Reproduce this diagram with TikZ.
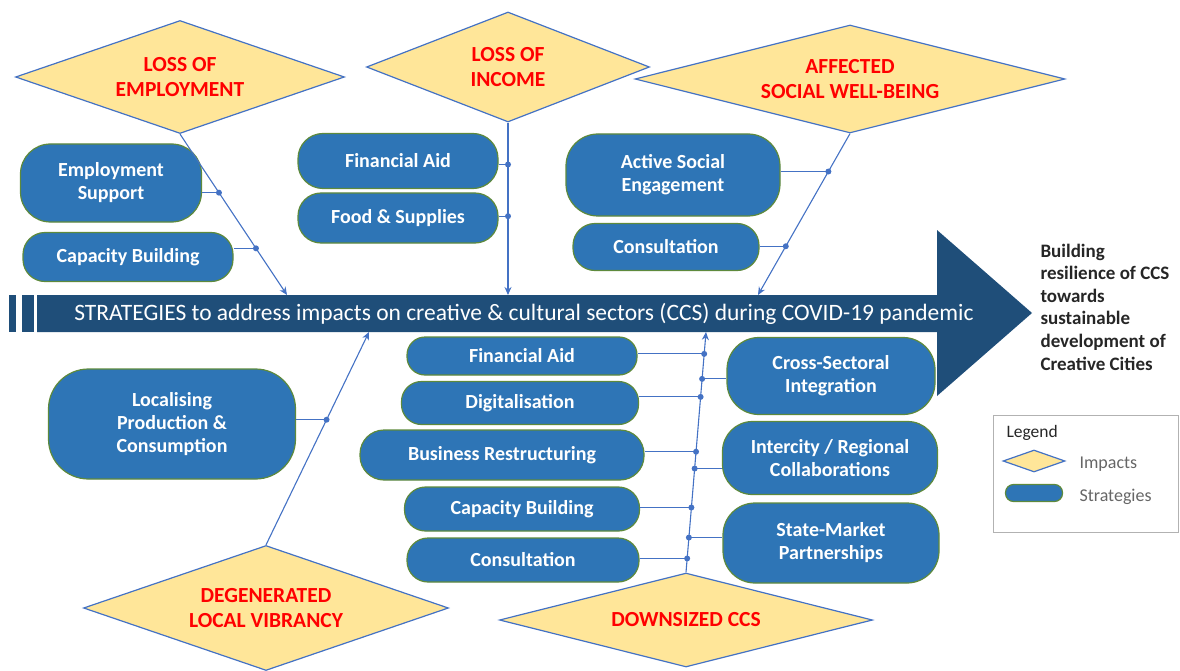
\documentclass[tikz,border=0pt]{standalone}
\usepackage{fontspec}
\setmainfont{Carlito}
\usetikzlibrary{shapes.geometric,arrows.meta,calc}
\definecolor{barblue}{HTML}{1F4E79}
\definecolor{stratfill}{HTML}{2E75B6}
\definecolor{stratline}{HTML}{5E8A3C}
\definecolor{impactfill}{HTML}{FFE699}
\definecolor{impactline}{HTML}{4472C4}
\definecolor{linkblue}{HTML}{4472C4}
\tikzset{
  impact/.style={diamond, draw=impactline, line width=1.2pt, fill=impactfill, inner sep=0pt,
    text=red, font=\bfseries\fontsize{21.5}{25}\selectfont, align=center},
  strategy/.style={rectangle, rounded corners=#1, draw=stratline, line width=1.2pt, fill=stratfill,
    inner sep=0pt, text=white, font=\bfseries\fontsize{20}{23}\selectfont, align=center},
  strategy/.default=20pt,
  stem/.style={draw=linkblue, line width=1.1pt, -{Stealth[length=8pt,width=7pt]}},
  link/.style={draw=linkblue, line width=1.1pt},
  keytext/.style={anchor=west, text=black!60, font=\fontsize{18}{20}\selectfont}
}
\begin{document}
\begin{tikzpicture}[x=1pt, y=-1pt]
    \useasboundingbox (0,0) rectangle (1180,671);

    % main arrow
    \fill[barblue] (9,295) rectangle (16,332);
    \fill[barblue] (22,295) rectangle (34,332);
    \fill[barblue] (37,295) -- (937,295) -- (937,230) -- (1032,313) -- (937,396) -- (937,332) -- (37,332) -- cycle;
    \node[text=white, font=\fontsize{23.5}{26}\selectfont] (bartext) at (524,314)
        {STRATEGIES to address impacts on creative \& cultural sectors (CCS) during COVID-19 pandemic};
    \node[text=black!85, font=\bfseries\fontsize{19}{22.6}\selectfont, align=left, anchor=west] (goal) at (1037,307)
        {Building\\resilience of CCS\\towards\\sustainable\\development of\\Creative Cities};

    % impacts
    \node[impact, aspect=2.9, minimum width=329pt, minimum height=113pt] (lossemp) at (180,77) {LOSS OF\\EMPLOYMENT};
    \node[impact, aspect=2.57, minimum width=283pt, minimum height=110pt] (lossinc) at (508,67) {LOSS OF\\INCOME};
    \node[impact, aspect=3.98, minimum width=430pt, minimum height=108pt] (wellbeing) at (850,79) {AFFECTED\\SOCIAL WELL-BEING};
    \node[impact, aspect=2.92, minimum width=365pt, minimum height=125pt] (vibrancy) at (266,608) {DEGENERATED\\LOCAL VIBRANCY};
    \node[impact, aspect=3.97, minimum width=373pt, minimum height=94pt] (downsized) at (686,620) {DOWNSIZED CCS};

    % strategies
    \node[strategy=30pt, minimum width=181pt, minimum height=78pt] (empsupport) at (111,183) {Employment\\Support};
    \node[strategy=22pt, minimum width=210pt, minimum height=49pt] (capbuildA) at (128,257) {Capacity Building};
    \node[strategy=25pt, minimum width=200pt, minimum height=55pt] (finaidA) at (398,161) {Financial Aid};
    \node[strategy=23pt, minimum width=200pt, minimum height=50pt] (food) at (398,218) {Food \& Supplies};
    \node[strategy=32pt, minimum width=214pt, minimum height=82pt] (socialeng) at (673,175) {Active Social\\Engagement};
    \node[strategy=22pt, minimum width=186pt, minimum height=47pt] (consultA) at (666,247) {Consultation};
    \node[strategy=40pt, minimum width=247pt, minimum height=110pt] (localise) at (172,424) {Localising\\Production \&\\Consumption};
    \node[strategy=18pt, minimum width=230pt, minimum height=38pt] (finaidB) at (522,356) {Financial Aid};
    \node[strategy=20pt, minimum width=237pt, minimum height=43pt] (digital) at (520,403) {Digitalisation};
    \node[strategy=24pt, minimum width=284pt, minimum height=50pt] (restruct) at (502,455) {Business Restructuring};
    \node[strategy=21pt, minimum width=235pt, minimum height=44pt] (capbuildB) at (522,509) {Capacity Building};
    \node[strategy=21pt, minimum width=232pt, minimum height=44pt] (consultB) at (523,560) {Consultation};
    \node[strategy=32pt, minimum width=208pt, minimum height=77pt] (crosssec) at (831,376) {Cross-Sectoral\\Integration};
    \node[strategy=30pt, minimum width=215pt, minimum height=73pt] (intercity) at (830,458) {Intercity / Regional\\Collaborations};
    \node[strategy=32pt, minimum width=216pt, minimum height=80pt] (statemkt) at (831,543) {State-Market\\Partnerships};

    % stems into the arrow
    \coordinate (t1) at (287,295);
    \coordinate (t2) at (508,295);
    \coordinate (t3) at (758,295);
    \coordinate (t4) at (369,332);
    \coordinate (t5) at (706,332);
    \draw[stem] (lossemp.south) -- (t1);
    \draw[stem] (lossinc.south) -- (t2);
    \draw[stem] (wellbeing.south) -- (t3);
    \draw[stem] (vibrancy.north) -- (t4);
    \draw[stem] (downsized.north) -- (t5);

    \coordinate (e1) at ($(lossemp.south)!0.364!(t1)$);
    \coordinate (e2) at ($(lossemp.south)!0.710!(t1)$);
    \coordinate (i1) at ($(lossinc.south)!0.243!(t2)$);
    \coordinate (i2) at ($(lossinc.south)!0.543!(t2)$);
    \coordinate (w1) at ($(wellbeing.south)!0.235!(t3)$);
    \coordinate (w2) at ($(wellbeing.south)!0.698!(t3)$);
    \coordinate (v1) at ($(vibrancy.north)!0.588!(t4)$);
    \coordinate (s1) at ($(downsized.north)!0.909!(t5)$);
    \coordinate (s2) at ($(downsized.north)!0.805!(t5)$);
    \coordinate (s3) at ($(downsized.north)!0.730!(t5)$);
    \coordinate (s4) at ($(downsized.north)!0.502!(t5)$);
    \coordinate (s5) at ($(downsized.north)!0.432!(t5)$);
    \coordinate (s6) at ($(downsized.north)!0.270!(t5)$);
    \coordinate (s7) at ($(downsized.north)!0.145!(t5)$);
    \coordinate (s8) at ($(downsized.north)!0.058!(t5)$);

    \draw[link] (e1) -- (e1 -| empsupport.east);
    \draw[link] (e2) -- (e2 -| capbuildA.east);
    \draw[link] (i1) -- (i1 -| finaidA.east);
    \draw[link] (i2) -- (i2 -| food.east);
    \draw[link] (w1) -- (w1 -| socialeng.east);
    \draw[link] (w2) -- (w2 -| consultA.east);
    \draw[link] (v1) -- (v1 -| localise.east);
    \draw[link] (s1) -- (s1 -| finaidB.east);
    \draw[link] (s2) -- (s2 -| crosssec.west);
    \draw[link] (s3) -- (s3 -| digital.east);
    \draw[link] (s4) -- (s4 -| restruct.east);
    \draw[link] (s5) -- (s5 -| intercity.west);
    \draw[link] (s6) -- (s6 -| capbuildB.east);
    \draw[link] (s7) -- (s7 -| statemkt.west);
    \draw[link] (s8) -- (s8 -| consultB.east);
    \foreach \d in {e1,e2,i1,i2,w1,w2,v1,s1,s2,s3,s4,s5,s6,s7,s8}
        \fill[linkblue] (\d) circle (3pt);

    % legend
    \draw[black!30, line width=1pt] (993,415) rectangle (1178,532);
    \node[anchor=west, text=black!85, font=\fontsize{17.5}{19}\selectfont] (legendtitle) at (1003,433) {Legend};
    \node[impact, aspect=2.8, minimum width=62pt, minimum height=22pt] (keyimpact) at (1034,461) {};
    \node[strategy=8pt, minimum width=57pt, minimum height=17pt] (keystrat) at (1034,493) {};
    \node[keytext] (keyimpacttext) at (1076,464) {Impacts};
    \node[keytext] (keystrattext) at (1076,497) {Strategies};
\end{tikzpicture}
\end{document}
